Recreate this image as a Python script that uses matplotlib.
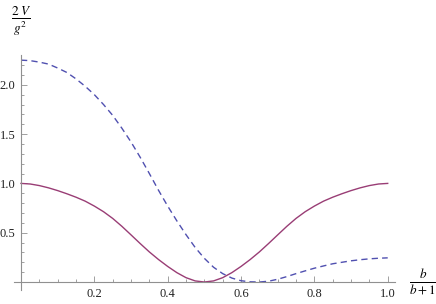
import numpy as np
import matplotlib
matplotlib.use("Agg")
import matplotlib.pyplot as plt

# values
x_vals = [0.000, 0.025, 0.050, 0.075, 0.100, 0.125, 0.150, 0.175, 0.200, 0.225,
          0.250, 0.275, 0.300, 0.325, 0.350, 0.375, 0.400, 0.425, 0.450, 0.475,
          0.500, 0.525, 0.550, 0.575, 0.600, 0.625, 0.650, 0.675, 0.700, 0.725,
          0.750, 0.775, 0.800, 0.825, 0.850, 0.875, 0.900, 0.925, 0.950, 0.975,
          1.000]
solid_vals = [1.000, 0.994, 0.978, 0.955, 0.927, 0.895, 0.860, 0.820, 0.770, 0.713,
              0.645, 0.565, 0.478, 0.390, 0.305, 0.228, 0.158, 0.095, 0.044, 0.011,
              0.000, 0.011, 0.044, 0.095, 0.158, 0.228, 0.305, 0.390, 0.478, 0.565,
              0.645, 0.713, 0.770, 0.820, 0.860, 0.895, 0.927, 0.955, 0.978, 0.994,
              1.000]
dashed_vals = [2.250, 2.245, 2.230, 2.210, 2.170, 2.125, 2.060, 1.985, 1.900, 1.800,
               1.690, 1.560, 1.420, 1.265, 1.100, 0.930, 0.770, 0.620, 0.480, 0.350,
               0.240, 0.150, 0.085, 0.040, 0.013, 0.002, 0.000, 0.008, 0.028, 0.055,
               0.085, 0.113, 0.140, 0.163, 0.185, 0.200, 0.215, 0.226, 0.235, 0.241,
               0.245]

x_ticks = [0.2, 0.4, 0.6, 0.8, 1.0]
y_ticks = [0.5, 1.0, 1.5, 2.0]

plt.rcParams['mathtext.fontset'] = 'stix'
plt.rcParams['font.family'] = ['Liberation Serif', 'DejaVu Serif']

fig = plt.figure(figsize=(4.36, 3.04), dpi=100)
ax = fig.add_axes([0, 0, 1, 1])

ax.plot(x_vals, dashed_vals, color='#5050b0', lw=1.0, dashes=(4.5, 3.0))
ax.plot(x_vals, solid_vals, color='#993d75', lw=1.0)

ax.set_xlim(-0.0573, 1.1317)
ax.set_ylim(-0.223, 2.860)

for side in ['top', 'right']:
    ax.spines[side].set_visible(False)
ax.spines['left'].set_position(('data', 0))
ax.spines['bottom'].set_position(('data', 0))
ax.spines['left'].set_bounds(-0.08, 2.30)
ax.spines['bottom'].set_bounds(-0.02, 1.02)
for side in ['left', 'bottom']:
    ax.spines[side].set_color('#909090')
    ax.spines[side].set_linewidth(0.8)

ax.set_xticks(x_ticks)
ax.set_xticklabels([f'{t:.1f}' for t in x_ticks])
ax.set_yticks(y_ticks)
ax.set_yticklabels([f'{t:.1f}' for t in y_ticks])
ax.set_xticks(np.arange(0.05, 1.0, 0.05), minor=True)
ax.set_yticks(np.arange(0.1, 2.3, 0.1), minor=True)
ax.tick_params(which='both', direction='in', color='#909090', width=0.6,
               labelsize=9, labelcolor='#222222')
ax.tick_params(which='major', length=4, pad=4)
ax.tick_params(which='minor', length=2.2)

ax.text(0.0, 2.64, r'$\frac{2\;V}{g^{2}}$', fontsize=13.5, ha='center', va='center')
ax.text(1.096, 0.0, r'$\frac{b}{b+1}$', fontsize=13.5, ha='center', va='center')

fig.savefig('out.png', dpi=100)
